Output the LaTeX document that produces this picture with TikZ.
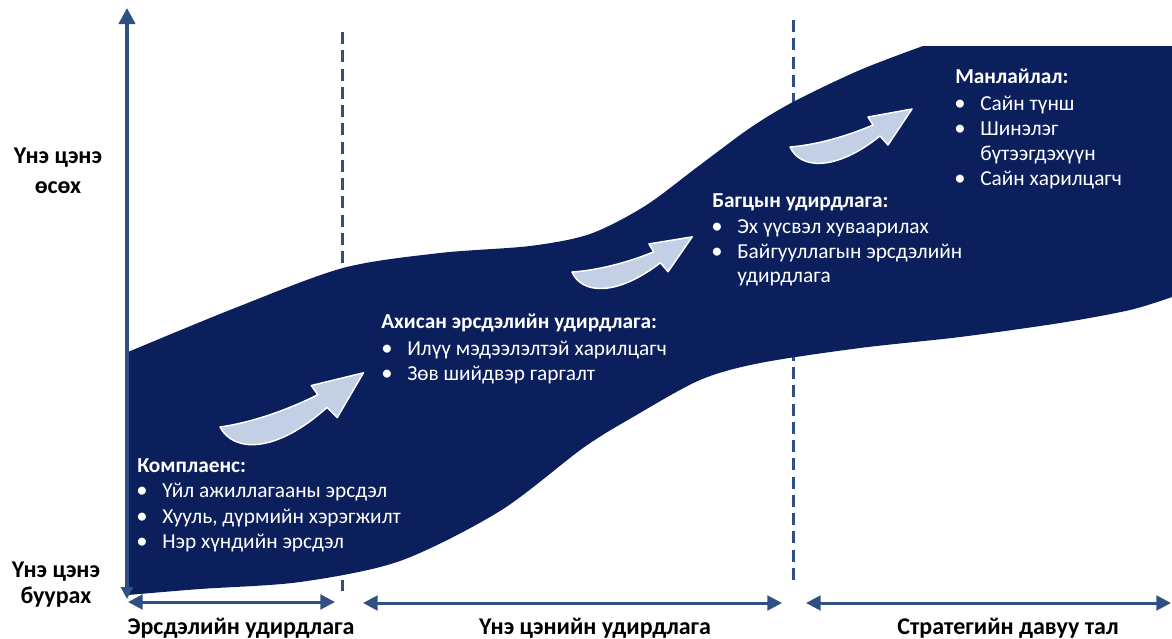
\documentclass[tikz,border=0pt]{standalone}
\usepackage{fontspec}
\setmainfont{Carlito}
\usetikzlibrary{arrows.meta}
\definecolor{bandblue}{HTML}{0B1F5C}
\definecolor{axisblue}{HTML}{2F4F85}
\definecolor{swfill}{HTML}{C3CFE5}
\begin{document}
\begin{tikzpicture}[x=0.75pt,y=-0.75pt,
  txt/.style={text=white, font=\fontsize{16}{19.5}\selectfont, inner sep=0, anchor=base west},
  ttl/.style={text=white, font=\fontsize{16}{19.5}\selectfont\bfseries, inner sep=0, anchor=base west},
  bul/.style={text=white, font=\fontsize{17}{19.5}\selectfont, inner sep=0, anchor=base},
  lbl/.style={text=black, font=\fontsize{18}{20}\selectfont\bfseries, inner sep=0, anchor=base},
  blbl/.style={text=black, font=\fontsize{18}{20}\selectfont\bfseries, inner sep=0, anchor=base},
  dashline/.style={axisblue, line width=2.25pt, dash pattern=on 9pt off 4.7pt},
  harrow/.style={axisblue, line width=2.25pt, {Triangle[length=11pt,width=11pt]}-{Triangle[length=11pt,width=11pt]}},
  vaxis/.style={axisblue, line width=3pt, {Triangle[length=9pt,width=9pt]}-{Triangle[length=12pt,width=12pt]}},
  swooshstyle/.style={fill=swfill, draw=white, line width=1.1pt, line join=round},
  swoosh/.pic={\path[swooshstyle] (0,0) .. controls (10,22) and (45,25) .. (90,-11) -- (98,-2) -- (122,-38) -- (78,-30) -- (83,-22) .. controls (55,-10) and (25,-2) .. (0,0) -- cycle;}
]
\useasboundingbox (0,0) rectangle (1172,639);

% dashed separators
\coordinate (d1t) at (342,32);
\coordinate (d1b) at (342,591);
\coordinate (d2t) at (793,20);
\coordinate (d2b) at (793,584);
\draw[dashline] (d1t) -- (d1b);
\draw[dashline] (d2t) -- (d2b);

% band
\fill[bandblue] plot[smooth] coordinates {(128,352) (235,308) (343,268) (440,253) (530,246) (590,234) (645,206) (700,165) (750,128) (793,102) (860,70) (923,46)}
  -- (1172,46) -- (1172,297)
  -- plot[smooth] coordinates {(1172,297) (1130,310) (1060,323) (960,337) (860,348) (760,363) (700,380) (633,417) (583,448) (500,511) (400,561) (300,582) (200,589) (128,595)}
  -- cycle;

% axes
\coordinate (axbot) at (127,599);
\coordinate (axtop) at (127,8);
\draw[vaxis] (axbot) -- (axtop);

\coordinate (h1l) at (128,602);
\coordinate (h1r) at (335,602);
\coordinate (h2l) at (363,603);
\coordinate (h2r) at (782,603);
\coordinate (h3l) at (806,603);
\coordinate (h3r) at (1171,603);
\draw[harrow] (h1l) -- (h1r);
\draw[harrow] (h2l) -- (h2r);
\draw[harrow] (h3l) -- (h3r);

% swooshes
\pic[rotate=3.4, scale=1.2] (sw1) at (220,427) {swoosh};
\pic[rotate=-1, scale=0.98] (sw2) at (572,272) {swoosh};
\pic (sw3) at (790,147) {swoosh};

% block 1
\node[ttl] (t1) at (137,472) {Комплаенс:};
\node[bul] (b1a) at (142,497) {•};
\node[txt] (t1a) at (162,497) {Үйл ажиллагааны эрсдэл};
\node[bul] (b1b) at (142,523) {•};
\node[txt] (t1b) at (162,523) {Хууль, дүрмийн хэрэгжилт};
\node[bul] (b1c) at (142,548) {•};
\node[txt] (t1c) at (162,548) {Нэр хүндийн эрсдэл};

% block 2
\node[ttl] (t2) at (381,328) {Ахисан эрсдэлийн удирдлага:};
\node[bul] (b2a) at (387,355) {•};
\node[txt] (t2a) at (407,355) {Илүү мэдээлэлтэй харилцагч};
\node[bul] (b2b) at (387,380) {•};
\node[txt] (t2b) at (407,380) {Зөв шийдвэр гаргалт};

% block 3
\node[ttl] (t3) at (712,207) {Багцын удирдлага:};
\node[bul] (b3a) at (717,233) {•};
\node[txt] (t3a) at (737,233) {Эх үүсвэл хуваарилах};
\node[bul] (b3b) at (717,258) {•};
\node[txt] (t3b) at (737,258) {Байгууллагын эрсдэлийн};
\node[txt] (t3c) at (737,282) {удирдлага};

% block 4
\node[ttl] (t4) at (955,83) {Манлайлал:};
\node[bul] (b4a) at (960,110) {•};
\node[txt] (t4a) at (980,110) {Сайн түнш};
\node[bul] (b4b) at (960,135) {•};
\node[txt] (t4b) at (980,135) {Шинэлэг};
\node[txt] (t4c) at (980,160) {бүтээгдэхүүн};
\node[bul] (b4c) at (960,185) {•};
\node[txt] (t4d) at (980,185) {Сайн харилцагч};

% axis labels
\node[lbl] (l1) at (58,163) {Үнэ цэнэ};
\node[lbl] (l2) at (58,193) {өсөх};
\node[lbl] (l3) at (56,577) {Үнэ цэнэ};
\node[lbl] (l4) at (56,603) {буурах};

% bottom labels
\node[blbl] (x1) at (241,634) {Эрсдэлийн удирдлага};
\node[blbl] (x2) at (595,634) {Үнэ цэнийн удирдлага};
\node[blbl] (x3) at (1008,634) {Стратегийн давуу тал};
\end{tikzpicture}
\end{document}
